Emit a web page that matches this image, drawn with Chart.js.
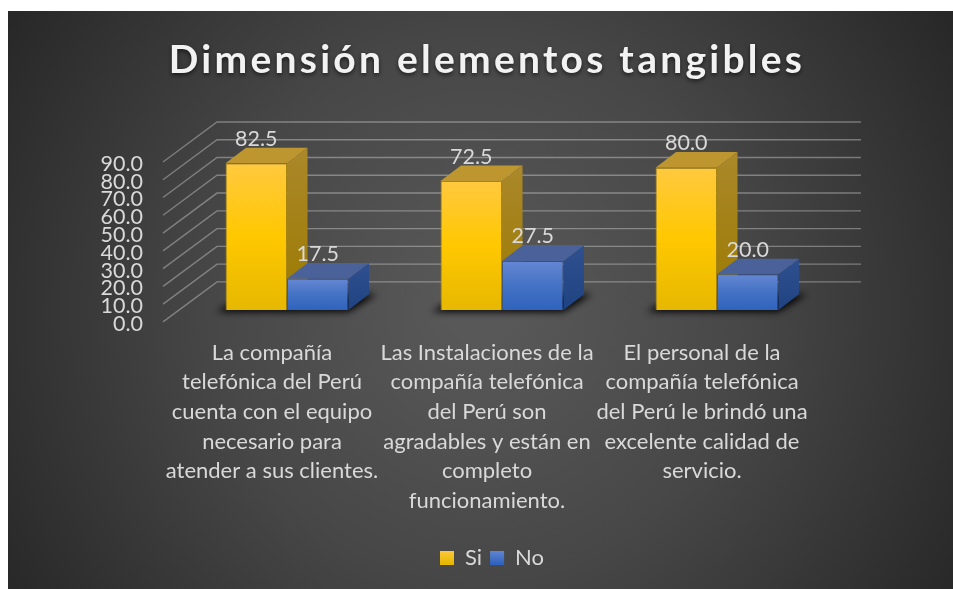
<!DOCTYPE html>
<html>
<head>
<meta charset="utf-8">
<style>
  html, body { margin: 0; padding: 0; background: #fff; }
  canvas { display: block; }
</style>
<script src="https://cdn.jsdelivr.net/npm/chart.js@4"></script>
</head>
<body>
<canvas id="dimChart" width="953" height="589"></canvas>
<script>
// chart data
var categories = [
  ['La compañía', 'telefónica del Perú', 'cuenta con el equipo', 'necesario para', 'atender a sus clientes.'],
  ['Las Instalaciones de la', 'compañía telefónica', 'del Perú son', 'agradables y están en', 'completo', 'funcionamiento.'],
  ['El personal de la', 'compañía telefónica', 'del Perú le brindó una', 'excelente calidad de', 'servicio.']
];
var siValues = [82.5, 72.5, 80.0];
var noValues = [17.5, 27.5, 20.0];
var seriesNames = ['Si', 'No'];

var FONT = 'Lato, Carlito, sans-serif';
var TEXT = '#d9d9d9';

// depth of the bars and of the floor, in pixels
var BAR_DX = 20.5, BAR_DY = 15.7;
var WALL_LEFT = 16.5, WALL_BACK = 37.5, WALL_RIGHT = 36.5, WALL_DOWN = 12, WALL_UP = 28;

var front = [['#ffc93f', '#ffc800', '#e6b800'], ['#6587d3', '#4472c4', '#2f63bd']];
var tops = ['#bd9630', '#4a6299'];
var sides = [['#ab882a', '#9b7a00'], ['#30508f', '#1f4382']];

function frontFill(c) {
  var i = c.datasetIndex;
  if (c.type !== 'data' || !c.chart.chartArea) return front[i][1];
  var y = c.chart.scales.y;
  var g = c.chart.ctx.createLinearGradient(0, y.getPixelForValue(c.raw), 0, y.getPixelForValue(0));
  g.addColorStop(0, front[i][0]);
  g.addColorStop(0.5, front[i][1]);
  g.addColorStop(1, front[i][2]);
  return g;
}

function poly(ctx, pts, fill) {
  ctx.beginPath();
  ctx.moveTo(pts[0][0], pts[0][1]);
  for (var i = 1; i < pts.length; i++) ctx.lineTo(pts[i][0], pts[i][1]);
  ctx.closePath();
  ctx.fillStyle = fill;
  ctx.fill();
}

// dark backdrop with the white margin of the picture
var backdrop = {
  id: 'backdrop',
  beforeDraw: function(chart) {
    var ctx = chart.ctx;
    var g = ctx.createRadialGradient(480, 310, 30, 480, 310, 560);
    g.addColorStop(0, '#585858');
    g.addColorStop(0.45, '#474747');
    g.addColorStop(1, '#272727');
    ctx.fillStyle = g;
    ctx.fillRect(8, 11, 945, 578);
  }
};

// spaced-out title with a soft shadow, legend nudged to the right
var spacedTitle = {
  id: 'spacedTitle',
  afterLayout: function(chart) {
    chart.legend.left += 5;
    chart.legend.right += 5;
    var t = chart.titleBlock;
    if (!t || t.wrapped) return;
    var draw = t.draw;
    t.wrapped = true;
    t.draw = function() {
      var ctx = chart.ctx;
      ctx.save();
      ctx.letterSpacing = '3.25px';
      ctx.shadowColor = 'rgba(0,0,0,0.6)';
      ctx.shadowBlur = 4;
      ctx.shadowOffsetY = 2;
      draw.call(t);
      ctx.restore();
    };
  }
};

// walls, floor shadow and the sides of the bars
var depth3d = {
  id: 'depth3d',
  beforeDatasetsDraw: function(chart) {
    var ctx = chart.ctx, area = chart.chartArea, y = chart.scales.y;
    ctx.save();
    ctx.strokeStyle = 'rgba(255,255,255,0.33)';
    ctx.lineWidth = 1.4;
    y.ticks.forEach(function(t) {
      var p = y.getPixelForValue(t.value);
      ctx.beginPath();
      ctx.moveTo(area.left - WALL_LEFT, p + WALL_DOWN);
      ctx.lineTo(area.left + WALL_BACK, p - WALL_UP);
      ctx.lineTo(area.right + WALL_RIGHT, p - WALL_UP);
      ctx.stroke();
    });

    // only the blurred shadow lands on the canvas, the shape itself stays off it
    var first = chart.getDatasetMeta(0).data, second = chart.getDatasetMeta(1).data;
    var off = 2000;
    first.forEach(function(bar, i) {
      var l = bar.x - bar.width / 2, r = second[i].x + second[i].width / 2, b = bar.base;
      ctx.save();
      ctx.shadowColor = 'rgba(0,0,0,0.95)';
      ctx.shadowBlur = 7;
      ctx.shadowOffsetX = off;
      poly(ctx, [[l - 9 - off, b + 2], [r - off, b + 2], [r + BAR_DX + 8 - off, b - BAR_DY], [l + BAR_DX - off, b - BAR_DY]], '#000');
      ctx.restore();
    });

    [0, 1].forEach(function(d) {
      chart.getDatasetMeta(d).data.forEach(function(bar) {
        var l = bar.x - bar.width / 2, r = bar.x + bar.width / 2, t = bar.y, b = bar.base;
        var g = ctx.createLinearGradient(0, t - BAR_DY, 0, b);
        g.addColorStop(0, sides[d][0]);
        g.addColorStop(1, sides[d][1]);
        poly(ctx, [[r, t], [r + BAR_DX, t - BAR_DY], [r + BAR_DX, b - BAR_DY], [r, b]], g);
        poly(ctx, [[l, t], [l + BAR_DX, t - BAR_DY], [r + BAR_DX, t - BAR_DY], [r, t]], tops[d]);
      });
    });
    ctx.restore();
  },
  afterDatasetsDraw: function(chart) {
    var ctx = chart.ctx;
    ctx.save();
    ctx.font = '21.5px ' + FONT;
    ctx.fillStyle = TEXT;
    ctx.textAlign = 'center';
    ctx.textBaseline = 'middle';
    chart.data.datasets.forEach(function(ds, d) {
      chart.getDatasetMeta(d).data.forEach(function(bar, i) {
        ctx.fillText(ds.data[i].toFixed(1), bar.x, bar.y - 24.5);
      });
    });
    ctx.restore();
  }
};

new Chart(document.getElementById('dimChart').getContext('2d'), {
  type: 'bar',
  data: {
    labels: categories,
    datasets: [
      { label: seriesNames[0], data: siValues, backgroundColor: frontFill, borderColor: 'rgba(190,145,0,0.8)', borderWidth: 1 },
      { label: seriesNames[1], data: noValues, backgroundColor: frontFill, borderColor: 'rgba(40,80,160,0.8)', borderWidth: 1 }
    ]
  },
  options: {
    responsive: false,
    animation: false,
    layout: { padding: { left: 21, right: 0, top: 0, bottom: 10 } },
    datasets: { bar: { categoryPercentage: 0.572, barPercentage: 1 } },
    scales: {
      x: {
        grid: { display: false },
        border: { display: false },
        afterFit: function(s) { s.height = 229.1; },
        ticks: {
          color: TEXT,
          font: { family: FONT, size: 22, lineHeight: 1.345 },
          padding: 20,
          labelOffset: -15,
          autoSkip: false,
          maxRotation: 0,
          minRotation: 0
        }
      },
      y: {
        min: 0,
        max: 90,
        grid: { display: false, drawTicks: false },
        border: { display: false },
        afterFit: function(s) { s.width = 158.5; },
        ticks: {
          color: TEXT,
          stepSize: 10,
          autoSkip: false,
          font: { family: FONT, size: 21.5 },
          padding: 36.5,
          labelOffset: 14,
          callback: function(v) { return v.toFixed(1); }
        }
      },
      // only keeps the plot clear of the right edge
      rightGap: {
        position: 'right',
        grid: { display: false },
        border: { display: false },
        ticks: { display: false },
        afterFit: function(s) { s.width = 128.5; }
      }
    },
    plugins: {
      tooltip: { enabled: false },
      title: {
        display: true,
        text: 'Dimensión elementos tangibles',
        color: '#f2f2f2',
        font: { family: FONT, size: 39, weight: 'bold', lineHeight: 1.2 },
        padding: { top: 36.6, bottom: 66.6 }
      },
      legend: {
        position: 'bottom',
        labels: {
          color: TEXT,
          font: { family: FONT, size: 22 },
          boxWidth: 14,
          boxHeight: 14,
          padding: 8,
          generateLabels: function(chart) {
            var ctx = chart.ctx;
            return seriesNames.map(function(name, i) {
              var g = ctx.createLinearGradient(0, 550, 0, 564);
              g.addColorStop(0, front[i][0]);
              g.addColorStop(1, front[i][2]);
              return { text: name, fillStyle: g, strokeStyle: g, lineWidth: 0, fontColor: TEXT, datasetIndex: i };
            });
          }
        }
      }
    }
  },
  plugins: [backdrop, spacedTitle, depth3d]
});
</script>
</body>
</html>
